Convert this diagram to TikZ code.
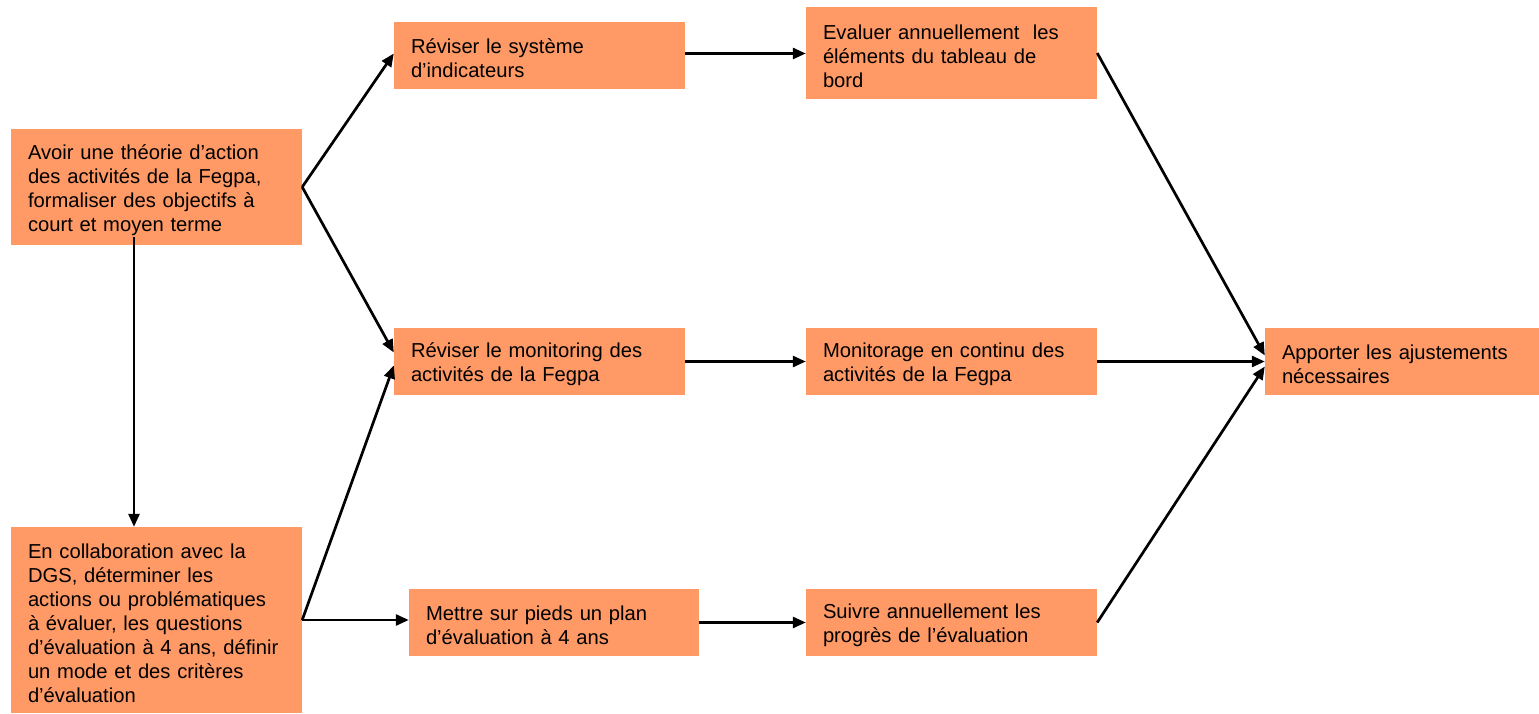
\documentclass[tikz,border=0pt]{standalone}
\usepackage{fontspec}
\setmainfont{Liberation Sans}
\usepackage{tikz}
\usetikzlibrary{arrows.meta, positioning}
\definecolor{boxfill}{HTML}{FF9966}

\begin{document}
\begin{tikzpicture}[x=1pt,y=-1pt,
    box/.style={rectangle, fill=boxfill, align=left, inner xsep=17pt, inner ysep=0pt,
      font=\fontsize{20.2}{24}\selectfont, text width=#1-34pt,
      execute at begin node={\rule{0pt}{21pt}}},
    box/.default=291pt,
    link/.style={line width=2.7pt, -{Triangle[length=13pt,width=11pt]}}]
        \useasboundingbox (0,0) rectangle (1539,714);

        \node[box, minimum height=116pt] (theory) at (156.5,187)
          {Avoir une théorie d’action\\des activités de la Fegpa,\\formaliser des objectifs à\\court et moyen terme};
        \node[box, minimum height=186pt] (collab) at (156.5,620)
          {En collaboration avec la\\DGS, déterminer les\\actions ou problématiques\\à évaluer, les questions\\d’évaluation à 4 ans, définir\\un mode et des critères\\d’évaluation};

        \node[box, minimum height=67pt] (revsys) at (539.5,55.5)
          {Réviser le système\\d’indicateurs};
        \node[box, minimum height=67pt] (revmon) at (539.5,361.5)
          {Réviser le monitoring des\\activités de la Fegpa};
        \node[box=290pt, minimum height=67pt] (plan) at (554,622.5)
          {Mettre sur pieds un plan\\d’évaluation à 4 ans};

        \node[box, minimum height=92pt] (evalann) at (951.5,53)
          {Evaluer annuellement\ \ les\\éléments du tableau de\\bord};
        \node[box, minimum height=67pt] (monit) at (951.5,361.5)
          {Monitorage en continu des\\activités de la Fegpa};
        \node[box, minimum height=67pt] (suivi) at (951.5,622.5)
          {Suivre annuellement les\\progrès de l’évaluation};

        \node[box=274pt, minimum height=67pt] (ajust) at (1402,361.5)
          {Apporter les ajustements\\nécessaires};

        \path[link] (theory.east)
          edge ([yshift=2pt]revsys.west)
          edge ([yshift=9pt]revmon.west);
        \path[link] ([xshift=-22.5pt,yshift=8pt]theory.south)
          edge ([xshift=-22.5pt]collab.north);

        \path[link] (collab.east)
          edge ([yshift=-4pt]revmon.west)
          edge (collab.east -| plan.west);

        \path[link] ([yshift=2pt]revsys.east) edge ([yshift=2pt]revsys.east -| evalann.west);
        \path[link] (revmon) edge (monit);
        \path[link] (plan) edge (suivi);

        \path[link] (evalann.east) edge ([yshift=6pt]ajust.west);
        \path[link] (monit) edge (ajust);
        \path[link] (suivi.east) edge ([yshift=-5pt]ajust.west);
      \end{tikzpicture}
\end{document}
